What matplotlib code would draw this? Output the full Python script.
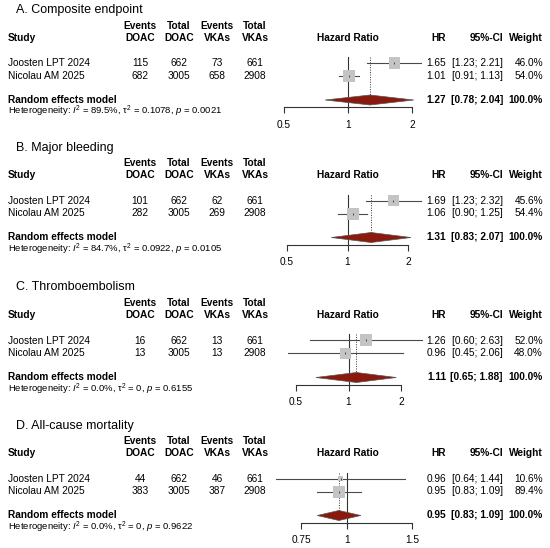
import numpy as np
import matplotlib
matplotlib.use("Agg")
import matplotlib.pyplot as plt

plt.rcParams['font.family'] = ['Liberation Sans', 'DejaVu Sans']
plt.rcParams['mathtext.fontset'] = 'custom'
plt.rcParams['mathtext.rm'] = 'Liberation Sans'
plt.rcParams['mathtext.it'] = 'Liberation Sans:italic'

# data
panel_titles = ["A. Composite endpoint", "B. Major bleeding",
                "C. Thromboembolism", "D. All-cause mortality"]
studies = ["Joosten LPT 2024", "Nicolau AM 2025"]
events_doac = [[115, 682], [101, 282], [16, 13], [44, 383]]
total_doac = [[662, 3005], [662, 3005], [662, 3005], [662, 3005]]
events_vka = [[73, 658], [62, 269], [13, 13], [46, 387]]
total_vka = [[661, 2908], [661, 2908], [661, 2908], [661, 2908]]
hr = [[1.65, 1.01], [1.69, 1.06], [1.26, 0.96], [0.96, 0.95]]
ci_lo = [[1.23, 0.91], [1.23, 0.90], [0.60, 0.45], [0.64, 0.83]]
ci_hi = [[2.21, 1.13], [2.32, 1.25], [2.63, 2.06], [1.44, 1.09]]
weights = [[46.0, 54.0], [45.6, 54.4], [52.0, 48.0], [10.6, 89.4]]
re_hr = [1.27, 1.31, 1.11, 0.95]
re_lo = [0.78, 0.83, 0.65, 0.83]
re_hi = [2.04, 2.07, 1.88, 1.09]
i2 = ["89.5%", "84.7%", "0.0%", "0.0%"]
tau2 = ["0.1078", "0.0922", "0", "0"]
pval = ["0.0021", "0.0105", "0.6155", "0.9622"]
xticks = [[0.5, 1, 2], [0.5, 1, 2], [0.5, 1, 2], [0.75, 1, 1.5]]
xtick_labels = [["0.5", "1", "2"], ["0.5", "1", "2"], ["0.5", "1", "2"],
                ["0.75", "1", "1.5"]]

W, H = 550, 548
fig = plt.figure(figsize=(W / 100, H / 100), dpi=100)

offsets = [0, 137.5, 277.5, 415.5]
# pixel extents of the forest axis in each panel
ax_px = [(284, 412), (287, 408), (296, 401), (301, 412)]

FS = 7.3
line_col = "#4a4a4a"


def txt(x, y, s, **kw):
    kw.setdefault("fontsize", FS)
    kw.setdefault("va", "center")
    fig.text(x / W, 1 - y / H, s, **kw)


cols = [140, 179, 217, 255]
heads = [("Events", "DOAC"), ("Total", "DOAC"), ("Events", "VKAs"), ("Total", "VKAs")]

for p in range(4):
    off = offsets[p]
    txt(16, 10 + off, panel_titles[p], fontsize=9.0)
    # header
    txt(8, 38 + off, "Study", weight="bold")
    for c, (h1, h2) in zip(cols, heads):
        txt(c, 26 + off, h1, weight="bold", ha="center")
        txt(c, 38 + off, h2, weight="bold", ha="center")
    txt(348, 38 + off, "Hazard Ratio", weight="bold", ha="center")
    txt(446, 38 + off, "HR", weight="bold", ha="right")
    txt(503, 38 + off, "95%-CI", weight="bold", ha="right")
    txt(543, 38 + off, "Weight", weight="bold", ha="right")

    rows_y = [63, 76]
    for i in range(2):
        y = rows_y[i] + off
        txt(8, y, studies[i])
        vals = [events_doac[p][i], total_doac[p][i], events_vka[p][i], total_vka[p][i]]
        for c, v in zip(cols, vals):
            txt(c, y, str(v), ha="center")
        txt(446, y, f"{hr[p][i]:.2f}", ha="right")
        txt(503, y, f"[{ci_lo[p][i]:.2f}; {ci_hi[p][i]:.2f}]", ha="right")
        txt(543, y, f"{weights[p][i]:.1f}%", ha="right")

    txt(8, 100 + off, "Random effects model", weight="bold")
    txt(446, 100 + off, f"{re_hr[p]:.2f}", weight="bold", ha="right")
    txt(503, 100 + off, f"[{re_lo[p]:.2f}; {re_hi[p]:.2f}]", weight="bold", ha="right")
    txt(543, 100 + off, "100.0%", weight="bold", ha="right")
    txt(8, 111.5 + off,
        r"Heterogeneity: $I^2$ = " + i2[p] + r", τ$^2$ = " + tau2[p]
        + r", $p$ = " + pval[p], fontsize=6.8)

    # forest axis
    x0, x1 = ax_px[p]
    y_top, y_bot = 55 + off, 107 + off
    ax = fig.add_axes([x0 / W, 1 - y_bot / H, (x1 - x0) / W, (y_bot - y_top) / H])
    ax.set_xscale("log")
    ax.set_xlim(xticks[p][0], xticks[p][-1])
    ax.set_ylim(107, 55)
    ax.patch.set_visible(False)
    for s in ["top", "right", "left"]:
        ax.spines[s].set_visible(False)
    ax.spines["bottom"].set_color("#333333")
    ax.spines["bottom"].set_linewidth(0.8)
    ax.set_yticks([])
    ax.xaxis.set_minor_locator(matplotlib.ticker.NullLocator())
    ax.set_xticks(xticks[p])
    ax.set_xticklabels(xtick_labels[p])
    ax.tick_params(axis="x", direction="out", length=4, width=0.8,
                   color="#333333", labelsize=FS, pad=5)

    ax.plot([1, 1], [57, 107], color="#333333", lw=0.8, clip_on=False)
    ax.plot([re_hr[p], re_hr[p]], [57, 95], color="#333333", lw=0.7,
            ls=(0, (1, 1.5)), clip_on=False)

    wmax = max(weights[p])
    for i in range(2):
        y = [63, 76][i]
        ax.plot([ci_lo[p][i], ci_hi[p][i]], [y, y], color=line_col, lw=0.8,
                clip_on=False, zorder=2)
        side = 12.0 * np.sqrt(weights[p][i] / wmax) * 0.72
        ax.scatter([hr[p][i]], [y], marker="s", s=side ** 2, color="#C4C4C4",
                   edgecolors="none", clip_on=False, zorder=3)
        ax.scatter([hr[p][i]], [y], marker="|", s=4, color="#333333",
                   linewidths=0.6, clip_on=False, zorder=4)

    ax.fill([re_lo[p], re_hr[p], re_hi[p], re_hr[p]], [100, 95, 100, 105],
            facecolor="#8B1A0E", edgecolor="#555555", lw=0.5,
            clip_on=False, zorder=3)

fig.savefig("out.png", dpi=100)
